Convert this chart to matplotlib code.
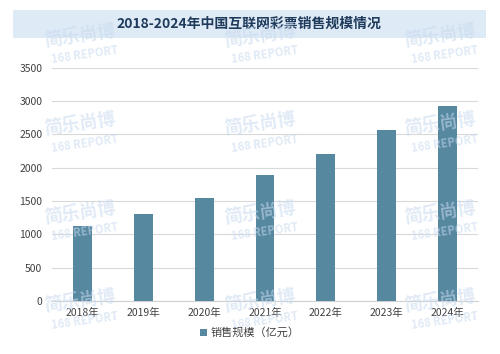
import matplotlib.pyplot as plt
import numpy as np
from matplotlib.patches import Rectangle

plt.rcParams['font.family'] = ['Noto Sans CJK SC', 'DejaVu Sans']

# 数据
years = ['2018年', '2019年', '2020年', '2021年', '2022年', '2023年', '2024年']
sales = [1130, 1310, 1550, 1890, 2200, 2560, 2920]
yticks = [0, 500, 1000, 1500, 2000, 2500, 3000, 3500]

fig = plt.figure(figsize=(5, 3.54), dpi=100)
fig.patch.set_facecolor('white')

# 标题背景条
fig.patches.append(Rectangle((0.026, 0.893), 0.946, 0.080, transform=fig.transFigure,
                             facecolor='#deeaf5', edgecolor='none', zorder=0))
fig.text(0.497, 0.932, '2018-2024年中国互联网彩票销售规模情况', ha='center', va='center',
         fontsize=10, fontweight='bold', color='#1f3b5c')

ax = fig.add_axes([0.104, 0.150, 0.852, 0.659])
ax.set_facecolor('none')
x = np.arange(len(years))
ax.bar(x, sales, width=0.31, color='#5688a0', label='销售规模（亿元）', zorder=3)

ax.set_xlim(-0.5, len(years) - 0.5)
ax.set_ylim(0, 3500)
ax.set_yticks(yticks)
ax.set_xticks(x)
ax.set_xticklabels(years)
ax.tick_params(axis='both', length=0, labelsize=7.5, colors='#404040')
ax.tick_params(axis='y', pad=7)
ax.tick_params(axis='x', pad=5)
ax.grid(axis='y', color='#d9d9d9', linewidth=0.8, zorder=0)
for s in ['top', 'right', 'left']:
    ax.spines[s].set_visible(False)
ax.spines['bottom'].set_color('#d0d0d0')

leg = fig.legend(loc='center', bbox_to_anchor=(0.5, 0.06), frameon=False, fontsize=8,
                 handlelength=0.6, handleheight=0.6, handletextpad=0.4)
for t in leg.get_texts():
    t.set_color('#404040')

# 水印
for wx in [0.16, 0.52, 0.88]:
    for wy in [0.88, 0.63, 0.38, 0.13]:
        fig.text(wx, wy + 0.02, '简乐尚博', fontsize=13, fontweight='bold', color='#c7daef',
                 alpha=0.55, ha='center', va='center', rotation=8, zorder=5)
        fig.text(wx + 0.01, wy - 0.035, '168 REPORT', fontsize=8, fontweight='bold', style='italic',
                 color='#c7daef', alpha=0.55, ha='center', va='center', rotation=8, zorder=5)

fig.savefig('out.png', dpi=100)
